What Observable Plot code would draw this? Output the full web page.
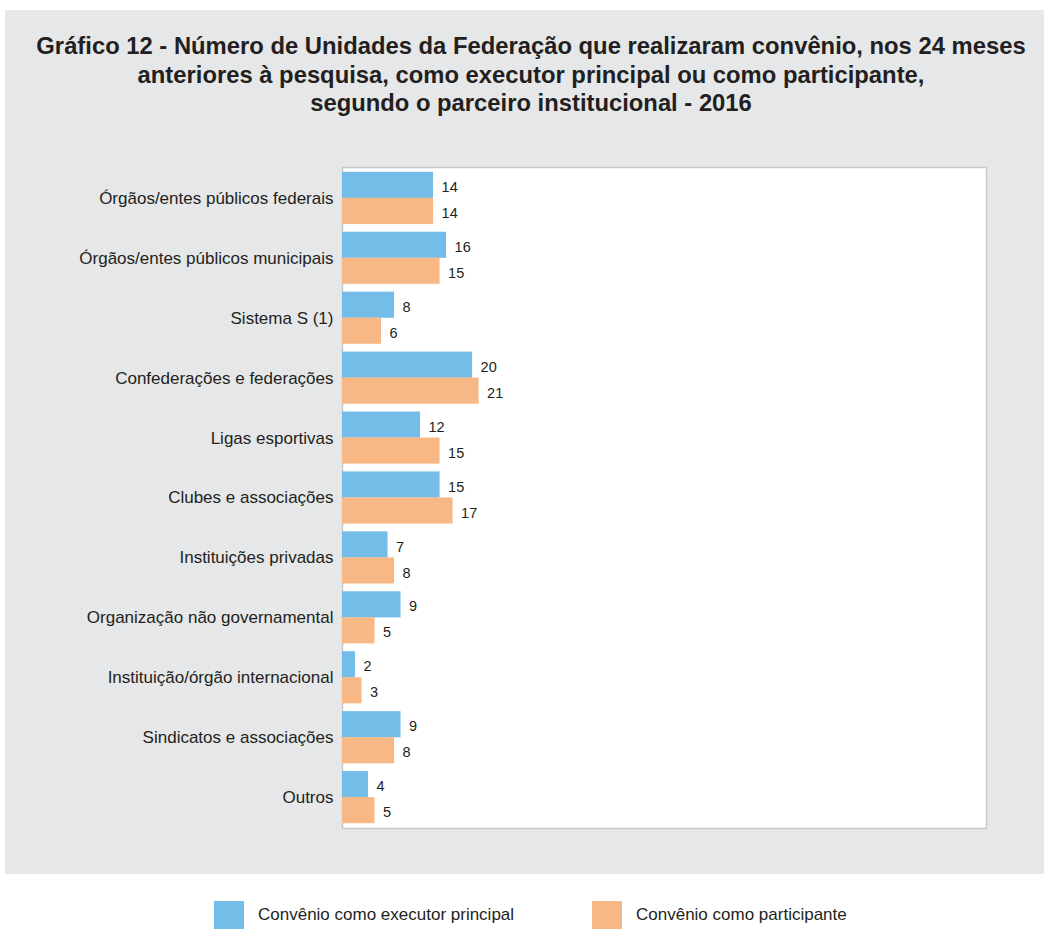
<!DOCTYPE html>
<html><head><meta charset="utf-8">
<script src="https://cdn.jsdelivr.net/npm/d3@7"></script>
<script src="https://cdn.jsdelivr.net/npm/@observablehq/plot@0.6"></script>
<style>
body{margin:0;background:#fff;width:1044px;height:929px;position:relative;overflow:hidden;font-family:"Liberation Sans",Arial,sans-serif;color:#231f20}
#panel{position:absolute;left:5px;top:10px;width:1039px;height:864px;background:#e6e7e8}
#title{position:absolute;left:0;top:32px;width:1062px;text-align:center;font-weight:bold;font-size:23.8px;line-height:28.5px;color:#231f20}
#chart{position:absolute;left:0;top:160px}
#legend{position:absolute;left:0;top:901px;width:1044px;height:28px;font-size:17px}
.sw{position:absolute;top:0;width:30px;height:28px}
.lt{position:absolute;top:0;line-height:28px;white-space:nowrap}
</style></head>
<body>
<div id="panel"></div>
<div id="title">Gráfico 12 - Número de Unidades da Federação que realizaram convênio, nos 24 meses<br>anteriores à pesquisa, como executor principal ou como participante,<br>segundo o parceiro institucional - 2016</div>
<div id="chart"></div>
<div id="legend"></div>
<script>
const categories = [
  "Órgãos/entes públicos federais",
  "Órgãos/entes públicos municipais",
  "Sistema S (1)",
  "Confederações e federações",
  "Ligas esportivas",
  "Clubes e associações",
  "Instituições privadas",
  "Organização não governamental",
  "Instituição/órgão internacional",
  "Sindicatos e associações",
  "Outros"
];
const executor = [14, 16, 8, 20, 12, 15, 7, 9, 2, 9, 4];
const participante = [14, 15, 6, 21, 15, 17, 8, 5, 3, 8, 5];
const seriesNames = ["Convênio como executor principal", "Convênio como participante"];
const colors = ["#74bde8", "#f8b886"];

const data = categories.map((c, i) => ({cat: c, exec: executor[i], part: participante[i]}));

const plot = Plot.plot({
  width: 1044,
  height: 681,
  marginLeft: 342,
  marginRight: 58,
  marginTop: 7,
  marginBottom: 13,
  style: {fontFamily: "'Liberation Sans', Arial, sans-serif", fontSize: "17px", color: "#231f20", background: "transparent"},
  x: {domain: [0, 99], axis: null},
  y: {domain: categories, paddingInner: 0.13, paddingOuter: 0.08, round: false, tickSize: 0, tickPadding: 9, label: null},
  marks: [
    Plot.frame({fill: "white", stroke: "#c9c9c9", strokeWidth: 1.5}),
    Plot.barX(data, {y: "cat", x: "exec", fill: colors[0], insetBottom: 26}),
    Plot.barX(data, {y: "cat", x: "part", fill: colors[1], insetTop: 26}),
    Plot.text(data, {y: "cat", x: "exec", text: d => String(d.exec), dx: 8, dy: -11, textAnchor: "start", fontSize: 14.5, fill: "#231f20"}),
    Plot.text(data, {y: "cat", x: "part", text: d => String(d.part), dx: 8, dy: 15, textAnchor: "start", fontSize: 14.5, fill: "#231f20"})
  ]
});
document.getElementById("chart").appendChild(plot);

const legend = document.getElementById("legend");
const pos = [[214, 258], [592, 636]];
seriesNames.forEach((n, i) => {
  const s = document.createElement("div");
  s.className = "sw"; s.style.left = pos[i][0] + "px"; s.style.background = colors[i];
  const t = document.createElement("div");
  t.className = "lt"; t.style.left = pos[i][1] + "px"; t.textContent = n;
  legend.appendChild(s); legend.appendChild(t);
});
</script>
</body></html>
